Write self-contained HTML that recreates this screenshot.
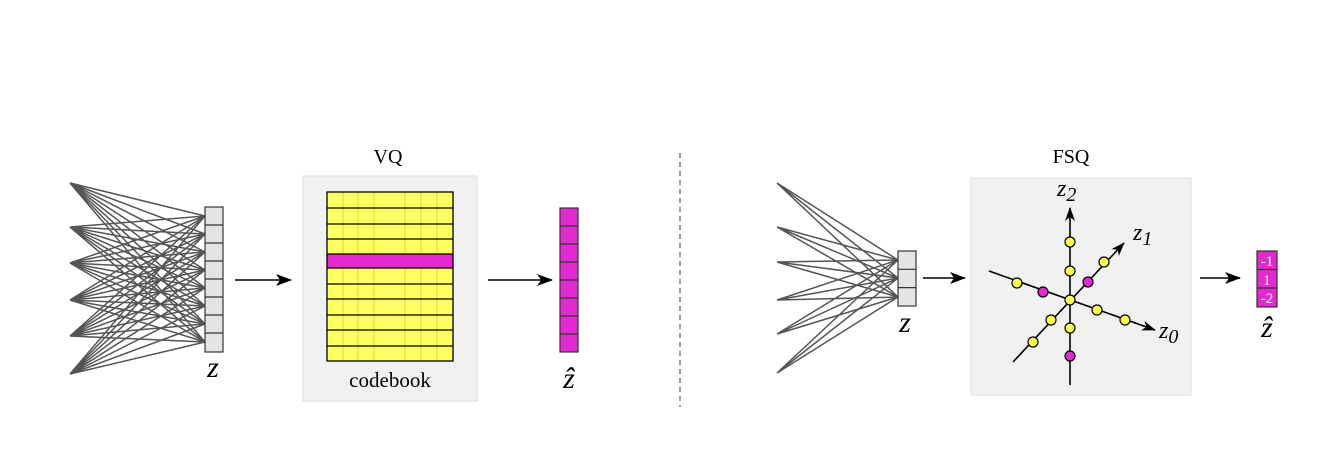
<!DOCTYPE html>
<html><head><meta charset="utf-8"><style>body{margin:0;background:#fff}svg{display:block}</style></head><body>
<svg width="1332" height="455" xmlns="http://www.w3.org/2000/svg" font-family="Liberation Serif, serif">
<defs><marker id="a" markerWidth="14" markerHeight="10" refX="13" refY="5" orient="auto" markerUnits="userSpaceOnUse"><path d="M0 0 L14 5 L0 10 L4 5 Z" fill="#000"/></marker>
<marker id="b" markerWidth="16" markerHeight="12" refX="15" refY="6" orient="auto" markerUnits="userSpaceOnUse"><path d="M0 0 L16 6 L0 12 L4 6 Z" fill="#000"/></marker></defs>
<g stroke="#555" stroke-width="1.5" fill="none">
<path d="M70 183L205 216M70 183L205 234M70 183L205 252M70 183L205 270M70 183L205 288M70 183L205 306M70 183L205 324M70 183L205 342
M70 227L205 216M70 227L205 234M70 227L205 252M70 227L205 270M70 227L205 288M70 227L205 306M70 227L205 324M70 227L205 342
M70 263L205 216M70 263L205 234M70 263L205 252M70 263L205 270M70 263L205 288M70 263L205 306M70 263L205 324M70 263L205 342
M70 300L205 216M70 300L205 234M70 300L205 252M70 300L205 270M70 300L205 288M70 300L205 306M70 300L205 324M70 300L205 342
M70 336L205 216M70 336L205 234M70 336L205 252M70 336L205 270M70 336L205 288M70 336L205 306M70 336L205 324M70 336L205 342
M70 374L205 216M70 374L205 234M70 374L205 252M70 374L205 270M70 374L205 288M70 374L205 306M70 374L205 324M70 374L205 342"/>
<path d="M777 183L898 260M777 183L898 278M777 183L898 297M777 227L898 260M777 227L898 278M777 227L898 297M777 262L898 260M777 262L898 278M777 262L898 297M777 300L898 260M777 300L898 278M777 300L898 297M777 334L898 260M777 334L898 278M777 334L898 297M777 373L898 260M777 373L898 278M777 373L898 297"/>
</g>
<g stroke="#333" stroke-width="1.2" fill="#e4e4e4">
<rect x="205" y="207" width="18" height="145"/>
<rect x="898" y="251" width="18" height="55"/>
</g>
<path d="M205 225H223M205 243H223M205 261H223M205 279H223M205 297H223M205 315H223M205 333H223M898 269.3H916M898 287.6H916" stroke="#333" stroke-width="1.2"/>
<text x="213" y="377" font-size="30" font-style="italic" text-anchor="middle">z</text>
<line x1="235" y1="280" x2="291" y2="280" stroke="#000" stroke-width="1.5" marker-end="url(#b)"/>
<text x="388" y="163" font-size="20" text-anchor="middle">VQ</text>
<rect x="303" y="176" width="174" height="225" fill="#f1f1f1" stroke="#ddd"/>
<rect x="327" y="192" width="126" height="169" fill="#ffff66"/>
<g stroke="#e8e830" stroke-width="1.5"><path d="M343 192V361M358 192V361M374 192V361M405 192V361M421 192V361M437 192V361"/></g>
<rect x="327" y="254" width="126" height="14" fill="#e12ad0"/>
<g stroke="#000" stroke-width="1.3" fill="none"><rect x="327" y="192" width="126" height="169"/>
<path d="M327 208H453M327 224H453M327 239H453M327 254H453M327 268H453M327 284H453M327 299H453M327 315H453M327 330H453M327 346H453"/></g>
<text x="390" y="387" font-size="21" text-anchor="middle">codebook</text>
<line x1="488" y1="280" x2="552" y2="280" stroke="#000" stroke-width="1.5" marker-end="url(#b)"/>
<rect x="560" y="208" width="18" height="144" fill="#e12ad0" stroke="#333" stroke-width="1.2"/>
<path d="M560 226H578M560 244H578M560 262H578M560 280H578M560 298H578M560 316H578M560 334H578" stroke="#333" stroke-width="1.2"/>
<text x="569" y="388" font-size="30" font-style="italic" text-anchor="middle">ẑ</text>
<line x1="680" y1="153" x2="680" y2="407" stroke="#666" stroke-width="1.3" stroke-dasharray="5,4"/>
<text x="905" y="332" font-size="30" font-style="italic" text-anchor="middle">z</text>
<line x1="923" y1="278" x2="965" y2="278" stroke="#000" stroke-width="1.5" marker-end="url(#b)"/>
<text x="1071" y="163" font-size="20" text-anchor="middle">FSQ</text>
<rect x="971" y="178" width="220" height="217" fill="#f1f1f1" stroke="#ddd"/>
<g stroke="#000" stroke-width="1.6">
<line x1="1070" y1="385" x2="1070" y2="208" marker-end="url(#a)"/>
<line x1="1013" y1="362" x2="1124" y2="243" marker-end="url(#a)"/>
<line x1="989" y1="271" x2="1155" y2="330" marker-end="url(#a)"/>
</g>
<g stroke="#000" stroke-width="1.2" fill="#ffff55">
<circle cx="1070" cy="242" r="5"/><circle cx="1070" cy="271" r="5"/><circle cx="1070" cy="300" r="5"/><circle cx="1070" cy="328" r="5"/>
<circle cx="1104" cy="262" r="5"/><circle cx="1051" cy="320" r="5"/><circle cx="1033" cy="342" r="5"/>
<circle cx="1017" cy="283" r="5"/><circle cx="1097" cy="310" r="5"/><circle cx="1125" cy="320" r="5"/>
<circle cx="1070" cy="356" r="5" fill="#e12ad0"/><circle cx="1088" cy="282" r="5" fill="#e12ad0"/><circle cx="1043" cy="292" r="5" fill="#e12ad0"/>
</g>
<text x="1057" y="196" font-size="24" font-style="italic">z<tspan font-size="20" dy="5">2</tspan></text>
<text x="1133" y="240" font-size="24" font-style="italic">z<tspan font-size="20" dy="5">1</tspan></text>
<text x="1159" y="338" font-size="24" font-style="italic">z<tspan font-size="20" dy="5">0</tspan></text>
<line x1="1200" y1="278" x2="1240" y2="278" stroke="#000" stroke-width="1.5" marker-end="url(#b)"/>
<rect x="1257" y="251" width="20" height="56" fill="#e12ad0" stroke="#333" stroke-width="1.2"/>
<path d="M1257 269.5H1277M1257 288H1277" stroke="#333" stroke-width="1.2"/>
<g fill="#fff" font-size="15" text-anchor="middle"><text x="1267" y="266">-1</text><text x="1267" y="285">1</text><text x="1267" y="303">-2</text></g>
<text x="1267" y="337" font-size="30" font-style="italic" text-anchor="middle">ẑ</text>
</svg>
</body></html>
